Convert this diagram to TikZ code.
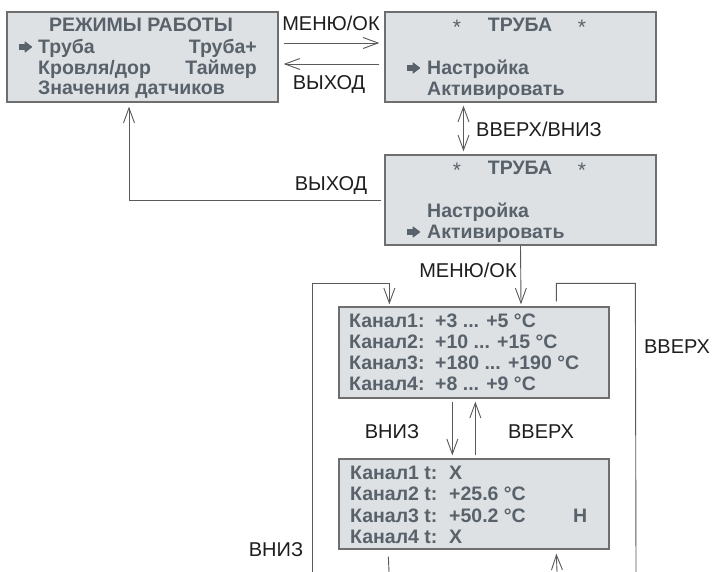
\documentclass[tikz,border=0pt]{standalone}
\usepackage{fontspec}
\setmainfont{Liberation Sans}
\usetikzlibrary{arrows.meta,calc}
\definecolor{boxfill}{HTML}{DDE1E4}
\definecolor{boxline}{HTML}{6E6E6E}
\definecolor{boxtext}{HTML}{59626B}
\definecolor{lbl}{HTML}{1E1E1E}
\definecolor{conn}{HTML}{5A5A5A}
\begin{document}
\begin{tikzpicture}[x=1pt,y=-1pt,
  screen/.style={draw=boxline,fill=boxfill,line width=1.3pt,inner sep=0pt,minimum width=271pt,minimum height=90pt},
  txt/.style={font=\fontsize{19.5}{21}\selectfont\bfseries,text=boxtext,inner sep=0pt,anchor=base west},
  star/.style={font=\fontsize{21}{22}\selectfont,text=boxtext,inner sep=0pt,anchor=base},
  lab/.style={font=\fontsize{20}{22}\selectfont,text=lbl,inner sep=0pt},
  ln/.style={draw=conn,line width=0.9pt},
  arr/.style={ln,-{Straight Barb[length=15pt,width=11pt]}},
  darr/.style={ln,{Straight Barb[length=15pt,width=11pt]}-{Straight Barb[length=15pt,width=11pt]}},
  pointer/.pic={\fill[boxtext] (0,-2.6) rectangle (6.5,2.6);
                \fill[boxtext,rounded corners=0.8pt] (5.5,-6) -- (13.5,0) -- (5.5,6) -- cycle;}]
\useasboundingbox[fill=white] (0,0) rectangle (712,572);

% screens
\node[screen] (A) at (142.5,57) {};
\node[screen] (B) at (520.5,57) {};
\node[screen] (C) at (520.5,200) {};
\node[screen,minimum width=270pt,minimum height=91pt] (D) at (474,352.5) {};
\node[screen,minimum width=270pt] (E) at (474,504) {};

% screen A
\node[txt,anchor=base] (a0) at (141,32) {РЕЖИМЫ РАБОТЫ};
\pic at (19,47) {pointer};
\node[txt] (a1) at (38,54) {Труба};
\node[txt,anchor=base east] (a1r) at (257,54) {Труба+};
\node[txt] (a2) at (38,75) {Кровля/дор};
\node[txt,anchor=base east] (a2r) at (257,75) {Таймер};
\node[txt] (a3) at (38,95) {Значения датчиков};

% screen B
\node[star] (b0l) at (457,35) {*};
\node[txt,anchor=base] (b0) at (520,32) {ТРУБА};
\node[star] (b0r) at (582,35) {*};
\pic at (407,68) {pointer};
\node[txt] (b1) at (427,75) {Настройка};
\node[txt] (b2) at (427,96) {Активировать};

% screen C
\node[star] (c0l) at (457,178) {*};
\node[txt,anchor=base] (c0) at (520,175) {ТРУБА};
\node[star] (c0r) at (582,178) {*};
\node[txt] (c1) at (427,218) {Настройка};
\pic at (407,232) {pointer};
\node[txt] (c2) at (427,239) {Активировать};

% screen D
\node[txt] (d1) at (349,327) {Канал1:};
\node[txt] (d1v) at (435,327) {+3 ... +5 °C};
\node[txt] (d2) at (349,348) {Канал2:};
\node[txt] (d2v) at (435,348) {+10 ... +15 °C};
\node[txt] (d3) at (349,369) {Канал3:};
\node[txt] (d3v) at (435,369) {+180 ... +190 °C};
\node[txt] (d4) at (349,390) {Канал4:};
\node[txt] (d4v) at (435,390) {+8 ... +9 °C};

% screen E
\node[txt] (e1) at (350,479) {Канал1 t:};
\node[txt] (e1v) at (449,479) {X};
\node[txt] (e2) at (350,500) {Канал2 t:};
\node[txt] (e2v) at (449,500) {+25.6 °C};
\node[txt] (e3) at (350,522) {Канал3 t:};
\node[txt] (e3v) at (449,522) {+50.2 °C};
\node[txt] (e3h) at (573,522) {Н};
\node[txt] (e4) at (350,543) {Канал4 t:};
\node[txt] (e4v) at (449,543) {X};

% labels
\node[lab] (l1) at (331,23) {МЕНЮ/ОК};
\node[lab] (l2) at (329,85) {ВЫХОД};
\node[lab,anchor=west] (l3) at (476,129) {ВВЕРХ/ВНИЗ};
\node[lab] (l4) at (331,186) {ВЫХОД};
\node[lab] (l5) at (468,270) {МЕНЮ/ОК};
\node[lab] (l6) at (677,347) {ВВЕРХ};
\node[lab] (l7) at (392,432) {ВНИЗ};
\node[lab] (l8) at (541,432) {ВВЕРХ};
\node[lab] (l9) at (276,550) {ВНИЗ};

% free ends at the bottom edge
\coordinate (lb) at (312,572);
\coordinate (rb) at (636,572);
\coordinate (eb1) at (389,572);
\coordinate (eb2) at (557,572);

% connectors
\draw[arr] ($(A.east)+(5,-14)$) -- ($(B.west)+(-5,-14)$);
\draw[arr] ($(B.west)+(-5,7)$) -- ($(A.east)+(5,7)$);
\draw[darr] ($(B.south)+(-57,3)$) -- ($(C.north)+(-57,-3)$);
\draw[arr] ($(C.west)+(-3,0)$) -| ($(A.south)+(-13.5,4)$);
\draw[arr] (C.south) -- ($(D.north)+(47,-2)$);
\draw[arr] (lb) |- ($(D.north west)+(51,-23)$) -- ($(D.north west)+(51,-2)$);
\draw[ln] ($(D.north west)+(218,-5)$) |- ($(D.north west)+(297,-23)$) -- (rb);
\draw[arr] ($(D.south west)+(114,3)$) -- ($(E.north west)+(114,-3)$);
\draw[arr] ($(E.north west)+(137,-3)$) -- ($(D.south west)+(137,3)$);
\draw[ln] ($(E.south west)+(50,7)$) -- (eb1);
\draw[arr] (eb2) -- ($(E.south west)+(218,4)$);
\end{tikzpicture}
\end{document}
